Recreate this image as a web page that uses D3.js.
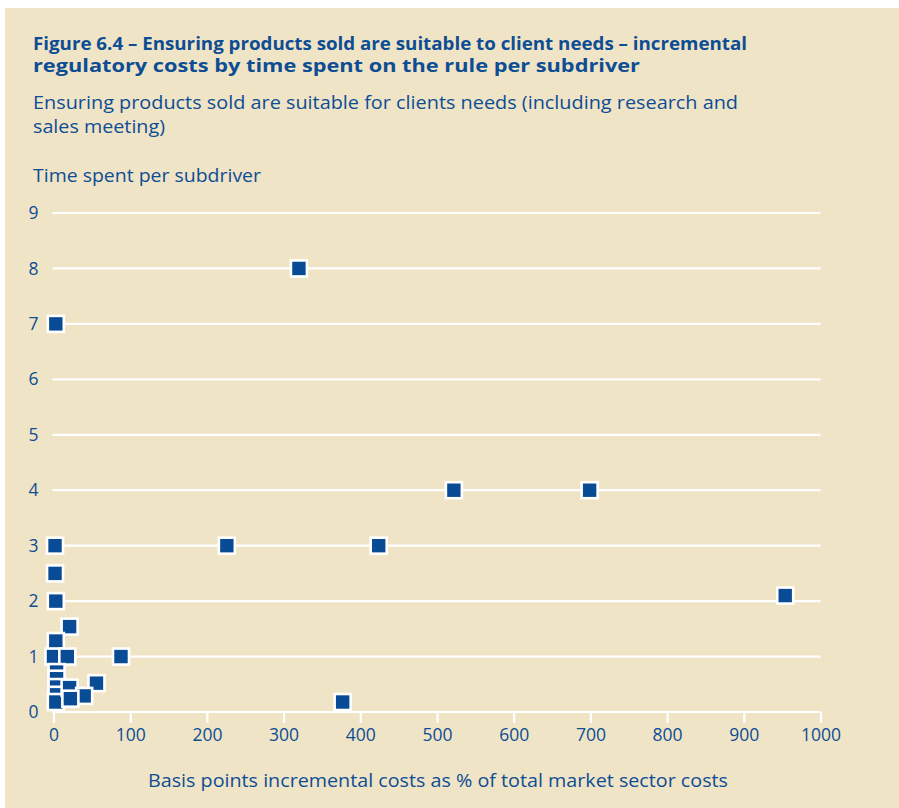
<!DOCTYPE html>
<html><head><meta charset="utf-8">
<script src="https://cdn.jsdelivr.net/npm/d3@7"></script>
<style>
html,body{margin:0;padding:0;background:#fff;}
svg{display:block;font-family:"Open Sans","Noto Sans",sans-serif;}
</style></head>
<body>
<svg id="c" width="899" height="808"></svg>
<script>
// Data: basis points incremental costs (x) vs time spent per subdriver (y)
const costs = [320, 3, 2, 2, 3, 226, 424, 522, 699, 954, 21, 3, 0, 18, 88, 4, 4, 4, 4, 3, 21, 56, 40, 22, 377];
const times = [8, 7, 3, 2.5, 2, 3, 3, 4, 4, 2.1, 1.54, 1.28, 1.0, 1.0, 1.0, 0.72, 0.6, 0.45, 0.31, 0.18, 0.44, 0.52, 0.29, 0.24, 0.18];
const xTicks = [0,100,200,300,400,500,600,700,800,900,1000];
const yTicks = [0,1,2,3,4,5,6,7,8,9];
const titleLines = ["Figure 6.4 – Ensuring products sold are suitable to client needs – incremental",
                    "regulatory costs by time spent on the rule per subdriver"];
const subtitleLines = ["Ensuring products sold are suitable for clients needs (including research and",
                       "sales meeting)"];
const yTitle = "Time spent per subdriver";
const xTitle = "Basis points incremental costs as % of total market sector costs";

const txt = "#0d4d94", mark = "#0a4b96", bg = "#f0e4c6";
const svg = d3.select("#c");
svg.append("rect").attr("x",5).attr("y",8).attr("width",894).attr("height",800).attr("fill",bg);

const x = d3.scaleLinear().domain([0,1000]).range([53.5,820.5]);
const y = d3.scaleLinear().domain([0,9]).range([712,213]);

// titles
const tl = [[titleLines[0],49.5,714],[titleLines[1],71.5,607]];
tl.forEach(([t,by,w])=>svg.append("text").attr("x",33).attr("y",by).attr("fill",txt)
  .attr("font-size",17.5).attr("font-weight","bold").attr("textLength",w).attr("lengthAdjust","spacingAndGlyphs").text(t));
const sl = [[subtitleLines[0],109,705],[subtitleLines[1],133,132]];
sl.forEach(([t,by,w])=>svg.append("text").attr("x",33).attr("y",by).attr("fill",txt)
  .attr("font-size",17.5).attr("textLength",w).attr("lengthAdjust","spacingAndGlyphs").text(t));
svg.append("text").attr("x",33).attr("y",182).attr("fill",txt).attr("font-size",17.5)
  .attr("textLength",228).attr("lengthAdjust","spacingAndGlyphs").text(yTitle);
svg.append("text").attr("x",438).attr("y",787).attr("fill",txt).attr("font-size",17.5).attr("text-anchor","middle")
  .attr("textLength",580).attr("lengthAdjust","spacingAndGlyphs").text(xTitle);

// gridlines (white)
svg.append("g").selectAll("line").data(yTicks).join("line")
  .attr("x1",x(0)-1).attr("x2",x(1000)).attr("y1",d=>y(d)).attr("y2",d=>y(d))
  .attr("stroke","#fff").attr("stroke-width",2.2);

// x axis
const xa = svg.append("g").attr("transform",`translate(0,${y(0)})`)
  .call(d3.axisBottom(x).tickValues(xTicks).tickSize(11).tickPadding(6).tickFormat(d3.format("d")));
xa.select(".domain").remove();
xa.selectAll(".tick line").attr("stroke","#fff").attr("stroke-width",2.2);
xa.selectAll(".tick text").attr("fill",txt).attr("font-size",17.5).attr("font-family","\"Open Sans\",sans-serif");

// y axis
const ya = svg.append("g").attr("transform",`translate(${x(0)},0)`)
  .call(d3.axisLeft(y).tickValues(yTicks).tickSize(0).tickPadding(15).tickFormat(d3.format("d")));
ya.select(".domain").remove();
ya.selectAll(".tick text").attr("fill",txt).attr("font-size",17.5).attr("font-family","\"Open Sans\",sans-serif");

// markers
const pts = costs.map((c,i)=>({c,t:times[i]}));
svg.append("g").selectAll("rect").data(pts).join("rect")
  .attr("x",d=>x(d.c)-8).attr("y",d=>y(d.t)-8).attr("width",16).attr("height",16)
  .attr("fill",mark).attr("stroke","#fff").attr("stroke-width",2.6);
</script>
</body></html>
